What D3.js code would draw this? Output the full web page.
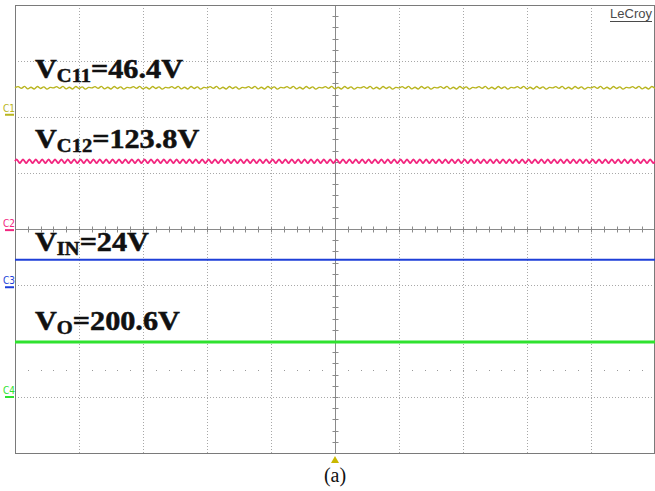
<!DOCTYPE html>
<html>
<head>
<meta charset="utf-8">
<script src="https://cdn.jsdelivr.net/npm/d3@7"></script>
<style>
  body { margin: 0; background: #fff; }
  svg { display: block; }
</style>
</head>
<body>
<svg id="scope" width="655" height="491"></svg>
<script>
// ---- data (divisions on the scope screen) ----
var channels = ["C1", "C2", "C3", "C4"];
var traceLevels = [2.52, 1.21, -0.55, -2.02];      // dc level of each trace
var groundMarkers = [2.04, -0.02, -1.04, -3.0];    // channel offset markers on the left
// one repeating piece of ripple (div), and its sample step (div)
var rippleC1 = [0, 0.022, -0.008, 0.026, -0.018, 0.012, -0.02, 0.024, -0.01, 0.018, -0.022, 0.008];
var rippleC2 = [0, 0.034, 0, -0.034];
var rippleC3 = [0];
var rippleC4 = [0];
var rippleStep = [0.05, 0.025, 0.5, 0.5];
var labelMain = ["V", "V", "V", "V"];
var labelSub = ["C11", "C12", "IN", "O"];
var labelValue = ["=46.4V", "=123.8V", "=24V", "=200.6V"];
var labelLevels = [2.70, 1.45, -0.39, -1.80];      // baseline of each annotation (div)
var dotRowLevel = -2.52;
var xDivs = d3.range(0, 11);
var yDivs = d3.range(-4, 5);

var colors = ["#b9b520", "#f2267f", "#1e3fd8", "#2fe22f"];
var widths = [1.4, 1.8, 2, 3];
var ripples = [rippleC1, rippleC2, rippleC3, rippleC4];

var svg = d3.select("#scope");
var x = d3.scaleLinear().domain([0, 10]).range([15, 655]);
var y = d3.scaleLinear().domain([-4, 4]).range([453, 5]);

// dotted grid
svg.selectAll(".vgrid").data(xDivs.filter(d => d != 5 && d > 0 && d < 10)).enter()
  .append("line")
  .attr("x1", d => x(d) + 0.5).attr("x2", d => x(d) + 0.5)
  .attr("y1", y(4)).attr("y2", y(-4))
  .attr("stroke", "#a8a8a8").attr("stroke-dasharray", "1,2");
svg.selectAll(".hgrid").data(yDivs.filter(d => d != 0 && d > -4 && d < 4)).enter()
  .append("line")
  .attr("x1", x(0)).attr("x2", x(10))
  .attr("y1", d => y(d) + 0.5).attr("y2", d => y(d) + 0.5)
  .attr("stroke", "#a8a8a8").attr("stroke-dasharray", "1,2");

// centre axes with minor ticks
svg.append("line").attr("x1", x(5) + 0.5).attr("x2", x(5) + 0.5).attr("y1", y(4)).attr("y2", y(-4))
  .attr("stroke", "#8a8a8a");
svg.append("line").attr("x1", x(0)).attr("x2", x(10)).attr("y1", y(0) + 0.5).attr("y2", y(0) + 0.5)
  .attr("stroke", "#8a8a8a");
svg.selectAll(".yt").data(d3.range(-4, 4.01, 0.2)).enter().append("line")
  .attr("x1", x(5) - 2.5).attr("x2", x(5) + 3.5)
  .attr("y1", d => Math.round(y(d)) + 0.5).attr("y2", d => Math.round(y(d)) + 0.5)
  .attr("stroke", "#8a8a8a");
svg.selectAll(".xt").data(d3.range(0, 10.01, 0.2)).enter().append("line")
  .attr("x1", d => Math.round(x(d)) + 0.5).attr("x2", d => Math.round(x(d)) + 0.5)
  .attr("y1", y(0) - 2.5).attr("y2", y(0) + 3.5)
  .attr("stroke", "#8a8a8a");

// faint dotted row left on the screen
svg.selectAll(".dotrow").data(d3.range(0.2, 10, 0.2)).enter().append("rect")
  .attr("x", d => Math.round(x(d))).attr("y", Math.round(y(dotRowLevel)))
  .attr("width", 1).attr("height", 1).attr("fill", "#9a9a9a");

// border
svg.append("rect").attr("x", x(0) + 0.5).attr("y", y(4) + 0.5)
  .attr("width", x(10) - x(0) - 1).attr("height", y(-4) - y(4))
  .attr("fill", "none").attr("stroke", "#7a7a7a");

// traces
var line = d3.line().x(d => x(d[0])).y(d => y(d[1])).curve(d3.curveCardinal);
channels.forEach(function (ch, i) {
  var pts = [];
  var rip = ripples[i];
  var k = 0;
  for (var t = 0; t <= 10.0001; t += rippleStep[i]) {
    pts.push([t, traceLevels[i] + rip[k % rip.length]]);
    k++;
  }
  svg.append("path").datum(pts)
    .attr("d", line)
    .attr("fill", "none")
    .attr("stroke", colors[i])
    .attr("stroke-width", widths[i]);

  // channel ground marker + name
  svg.append("line").attr("x1", 5).attr("x2", 14)
    .attr("y1", y(groundMarkers[i])).attr("y2", y(groundMarkers[i]))
    .attr("stroke", colors[i]).attr("stroke-width", 2);
  svg.append("text").attr("x", 3).attr("y", y(groundMarkers[i]) - 3)
    .attr("font-family", "DejaVu Sans Condensed, DejaVu Sans, sans-serif")
    .attr("font-size", 10).attr("fill", colors[i]).text(ch);
});

// annotations
labelMain.forEach(function (m, i) {
  var bx = 35, by = y(labelLevels[i]);
  var t = svg.append("text")
    .attr("transform", "translate(" + bx + "," + by + ") scale(1.08,1)")
    .attr("font-family", "Liberation Serif, Times New Roman, serif")
    .attr("font-weight", "bold").attr("font-size", 28).attr("fill", "#111")
    .attr("stroke", "#111").attr("stroke-width", 0.5);
  t.append("tspan").text(m);
  t.append("tspan").attr("font-size", 19).attr("dy", 4).text(labelSub[i]);
  t.append("tspan").attr("dy", -4).text(labelValue[i]);
});

// LeCroy logo
svg.append("text").attr("x", 652).attr("y", 18).attr("text-anchor", "end")
  .attr("font-family", "Liberation Sans, Arial, sans-serif")
  .attr("font-size", 13).attr("fill", "#4a4a4a").text("LeCroy");
svg.append("line").attr("x1", 610).attr("x2", 652).attr("y1", 21.5).attr("y2", 21.5)
  .attr("stroke", "#4a4a4a").attr("stroke-width", 1.2);

// trigger marker
svg.append("path")
  .attr("d", "M" + x(5) + "," + (y(-4) + 3) + " l4,7 l-8,0 z")
  .attr("fill", "#c9b800");

// caption
svg.append("text").attr("x", x(5)).attr("y", 482).attr("text-anchor", "middle")
  .attr("font-family", "Liberation Serif, Times New Roman, serif")
  .attr("font-size", 20).attr("fill", "#111").text("(a)");
</script>
</body>
</html>
